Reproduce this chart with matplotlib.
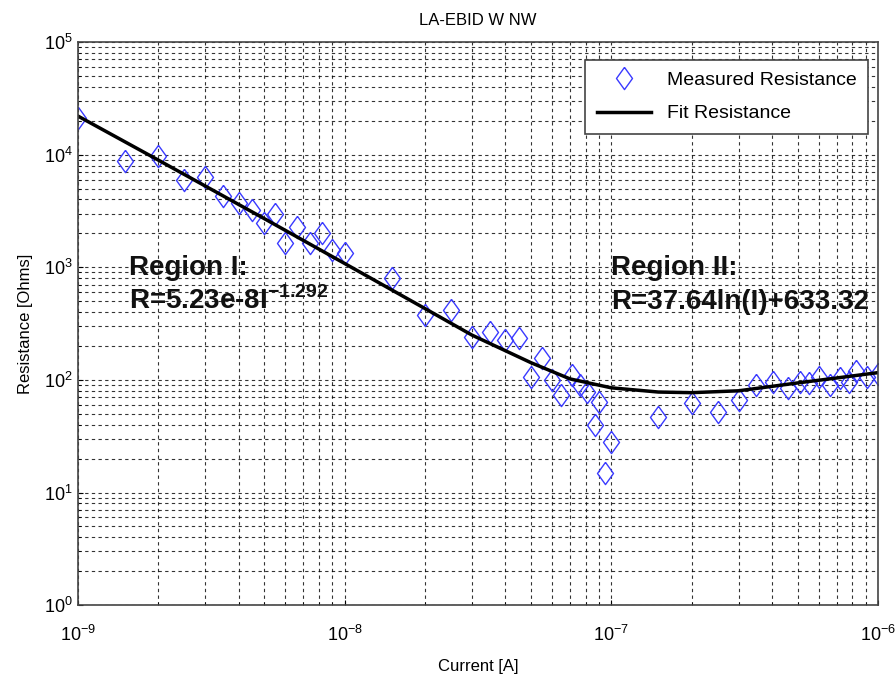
import matplotlib
matplotlib.use('Agg')
import matplotlib.pyplot as plt
import numpy as np

plt.rcParams['font.family'] = ['Liberation Sans', 'DejaVu Sans']
plt.rcParams['mathtext.fontset'] = 'custom'
plt.rcParams['mathtext.rm'] = 'Liberation Sans'
plt.rcParams['mathtext.bf'] = 'Liberation Sans:bold'

# measured points
current = [1e-9, 1.5e-9, 2e-9, 2.5e-9, 3e-9, 3.5e-9, 4e-9, 4.5e-9, 5e-9, 5.5e-9,
           6e-9, 6.6e-9, 7.4e-9, 8.2e-9, 9e-9, 1e-8,
           1.5e-8, 2e-8, 2.5e-8, 3e-8, 3.5e-8, 4e-8, 4.5e-8, 5e-8, 5.5e-8, 6e-8,
           6.5e-8, 7.1e-8, 7.6e-8, 8.1e-8, 8.7e-8, 9e-8, 9.5e-8, 1e-7,
           1.5e-7, 2e-7, 2.5e-7, 3e-7, 3.5e-7, 4.05e-7, 4.6e-7, 5.1e-7, 5.5e-7,
           6e-7, 6.6e-7, 7.2e-7, 7.8e-7, 8.3e-7, 9.1e-7, 1e-6]
resistance = [21000, 8800, 9800, 5900, 6300, 4300, 3700, 3200, 2450, 3000,
              1650, 2300, 1650, 2000, 1420, 1340,
              800, 380, 415, 240, 265, 225, 235, 105, 156, 100,
              73, 110, 90, 78, 40, 64, 15, 28,
              47, 62, 52, 66, 90, 96, 85, 96, 94,
              106, 90, 104, 96, 120, 106, 112]

# fit curve
fit_current = [1e-9, 2e-9, 5e-9, 1e-8, 2e-8, 3e-8, 5e-8, 7e-8, 1e-7, 1.5e-7,
               2e-7, 3e-7, 5e-7, 7e-7, 1e-6]
fit_resistance = [22000, 8950, 2700, 1080, 430, 250, 142, 102, 85, 78,
                  77, 80, 94, 104, 116]

diamond = [(0, 1), (0.72, 0), (0, -1), (-0.72, 0), (0, 1)]

fig = plt.figure(figsize=(8.96, 6.83), dpi=100)
ax = fig.add_axes([0.087, 0.114, 0.893, 0.8245])

ax.plot(current, resistance, linestyle='none', marker=diamond, markersize=16,
        markerfacecolor='none', markeredgecolor='#3a3aff', markeredgewidth=1.0,
        label='Measured Resistance')
ax.plot(fit_current, fit_resistance, color='black', linewidth=2.5,
        label='Fit Resistance')

ax.set_xscale('log')
ax.set_yscale('log')
ax.set_xlim(1e-9, 1e-6)
ax.set_ylim(1e0, 1e5)

ax.grid(True, which='both', linestyle=(0, (3, 3)), color='black', linewidth=0.8, alpha=0.8)
ax.tick_params(which='both', direction='in', labelsize=13)
ax.tick_params(axis='x', which='major', pad=14)
for s in ax.spines.values():
    s.set_linewidth(1.2)
    s.set_color('#444444')

ax.set_title('LA-EBID W NW', fontsize=12, pad=12)
ax.set_xlabel('Current [A]', fontsize=12, labelpad=10)
ax.set_ylabel('Resistance [Ohms]', fontsize=12, labelpad=8)

ax.text(1.55e-9, 850, 'Region I:', fontsize=20, fontweight='bold', color='#111111')
ax.text(1.55e-9, 430, r'R=5.23e-8I$^{\mathbf{-1.292}}$', fontsize=20, fontweight='bold',
        color='#111111')
ax.text(1.0e-7, 850, 'Region II:', fontsize=20, fontweight='bold', color='#111111')
ax.text(1.0e-7, 430, 'R=37.64ln(I)+633.32', fontsize=20, fontweight='bold', color='#111111')

leg = ax.legend(loc='upper right', bbox_to_anchor=(0.9875, 0.968), borderaxespad=0,
                fontsize=14, fancybox=False, framealpha=1,
                edgecolor='#444444', borderpad=0.6, handlelength=2.8,
                labelspacing=0.8)
leg.get_frame().set_linewidth(1.2)

fig.savefig('out.png', dpi=100)
